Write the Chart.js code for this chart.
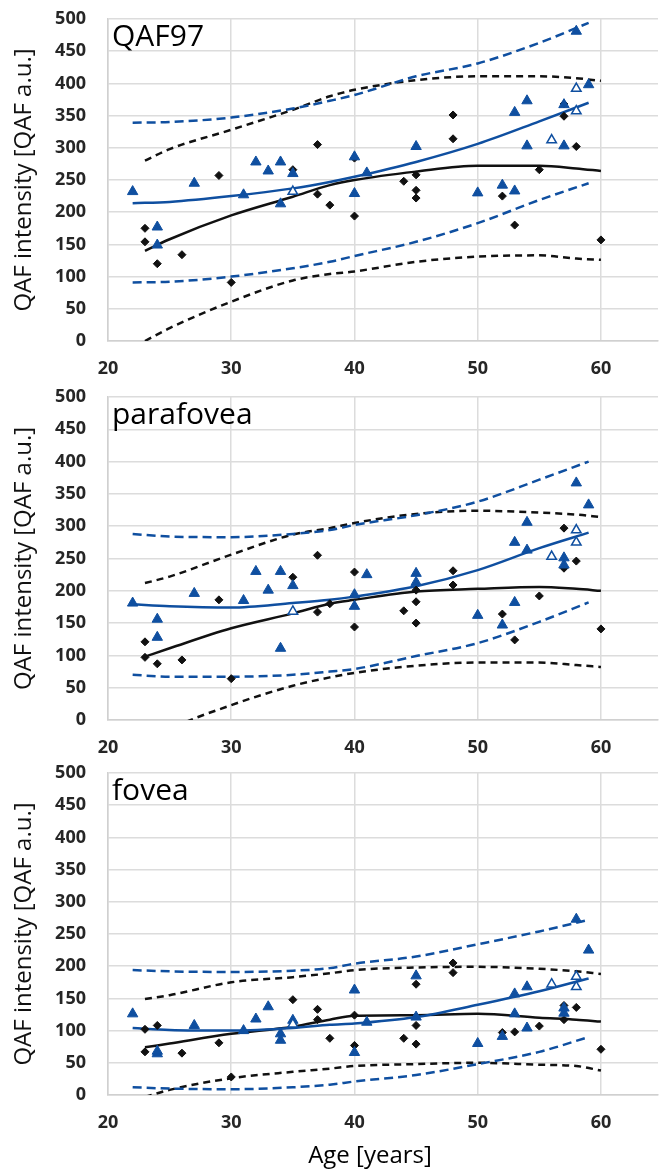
<!DOCTYPE html>
<html>
<head>
<meta charset="utf-8">
<script src="https://cdn.jsdelivr.net/npm/chart.js@4"></script>
<style>
  body { margin: 0; background: #fff; }
  #wrap { position: relative; width: 665px; height: 1170px; overflow: hidden; }
  canvas { position: absolute; left: 0; }
</style>
</head>
<body>
<div id="wrap">
  <canvas id="c1" width="665" height="380" style="top:0px"></canvas>
  <canvas id="c2" width="665" height="380" style="top:380px"></canvas>
  <canvas id="c3" width="665" height="410" style="top:760px"></canvas>
</div>
<script>
// ages where the fitted curves were read
const blackAges = [23, 25, 30, 35, 38, 40, 45, 50, 55, 58, 60];
const blueAges = [22, 25, 30, 35, 38, 40, 45, 50, 55, 59];

// QAF97
const qafBlackFit = [140, 158, 195, 224, 242, 250, 263, 272, 272, 268, 264];
const qafBlackUp = [280, 298, 328, 359, 380, 390, 405, 411, 411, 408, 404];
const qafBlackLow = [0, 20, 61, 94, 104, 108, 123, 131, 133, 128, 126];
const qafBlueFit = [214, 216, 225, 237, 247, 255, 278, 306, 341, 370];
const qafBlueUp = [339, 340, 347, 361, 373, 382, 411, 431, 463, 494];
const qafBlueLow = [91, 92, 100, 113, 123, 132, 154, 183, 219, 245];

// parafovea
const paraBlackFit = [98, 111, 142, 165, 180, 186, 199, 203, 206, 203, 200];
const paraBlackUp = [212, 222, 256, 287, 297, 305, 319, 324, 321, 318, 314];
const paraBlackLow = [-40, -15, 23, 53, 66, 73, 84, 89, 89, 85, 82];
const paraBlueFit = [179, 176, 174, 181, 186, 191, 207, 232, 266, 290];
const paraBlueUp = [288, 284, 283, 288, 294, 302, 317, 338, 372, 400];
const paraBlueLow = [70, 67, 67, 70, 75, 79, 99, 119, 152, 182];

// fovea
const fovBlackFit = [74, 80, 95, 106, 117, 123, 124, 126, 120, 117, 114];
const fovBlackUp = [149, 155, 175, 183, 189, 194, 198, 199, 196, 192, 188];
const fovBlackLow = [-3, 8, 26, 36, 41, 45, 48, 50, 47, 45, 38];
const fovBlueFit = [104, 101, 100, 104, 109, 111, 121, 140, 161, 181];
const fovBlueUp = [194, 192, 191, 193, 197, 204, 215, 234, 254, 272];
const fovBlueLow = [12, 10, 9, 12, 16, 21, 31, 48, 67, 90];

// individual subjects
const diamondAges = [23, 23, 24, 26, 29, 30, 35, 37, 37, 38, 40, 40, 44, 45, 45, 45, 48, 48, 52, 53, 55, 57, 57, 58, 60];
const qafDiamonds = [175, 154, 120, 134, 257, 91, 266, 305, 228, 211, 284, 194, 248, 258, 234, 222, 351, 314, 225, 180, 266, 368, 349, 302, 157];
const paraDiamonds = [121, 97, 87, 93, 186, 64, 221, 255, 167, 180, 229, 144, 169, 201, 183, 150, 231, 209, 164, 124, 192, 297, 235, 246, 141];
const fovDiamonds = [102, 67, 108, 65, 81, 28, 148, 133, 117, 88, 124, 77, 88, 172, 108, 79, 205, 190, 97, 98, 107, 139, 117, 136, 71];

const qafTriAges = [22, 24, 24, 27, 31, 32, 33, 34, 34, 35, 40, 40, 41, 45, 50, 52, 53, 53, 54, 54, 57, 57, 58, 59];
const qafTriangles = [232, 177, 149, 245, 227, 278, 264, 278, 213, 260, 286, 229, 261, 302, 230, 242, 233, 355, 373, 303, 367, 303, 481, 398];
const triAges = [22, 24, 24, 27, 31, 32, 33, 34, 34, 35, 40, 40, 41, 45, 45, 50, 52, 53, 53, 54, 54, 57, 57, 58, 59];
const paraTriangles = [181, 156, 128, 196, 185, 230, 201, 230, 111, 208, 194, 176, 225, 227, 213, 162, 147, 182, 275, 306, 263, 251, 240, 367, 333];
const fovTriangles = [126, 64, 68, 108, 100, 118, 137, 95, 85, 116, 163, 66, 113, 185, 121, 80, 91, 157, 126, 168, 104, 135, 127, 273, 225];

const hollowAges = [35, 56, 58, 58];
const qafHollow = [232, 312, 392, 357];
const paraHollow = [168, 253, 294, 275];
const fovHollow = [110, 172, 184, 168];

const yTicks = [0, 50, 100, 150, 200, 250, 300, 350, 400, 450, 500];
const xTicks = [20, 30, 40, 50, 60];

const BLUE = "#0f4fa0";
const BLACK = "#111111";
const FONT = "'Open Sans', 'Noto Sans', sans-serif";

function pts(xs, ys) {
  return xs.map((x, i) => ({ x: x, y: ys[i] }));
}

function lineSet(xs, ys, color, dash) {
  return {
    type: "line",
    data: pts(xs, ys),
    borderColor: color,
    borderWidth: 2.5,
    borderDash: dash,
    pointRadius: 0,
    showLine: true,
    fill: false,
    cubicInterpolationMode: "monotone",
    order: 5
  };
}

const panelLabel = {
  id: "panelLabel",
  afterDraw(chart, args, opts) {
    const { ctx, chartArea } = chart;
    ctx.save();
    ctx.font = "30px " + FONT;
    ctx.fillStyle = "#000";
    ctx.textAlign = "left";
    ctx.textBaseline = "alphabetic";
    ctx.fillText(opts.text, chartArea.left + 4, chartArea.top + 27);
    if (opts.xTitle) {
      ctx.font = "24px " + FONT;
      ctx.textAlign = "center";
      ctx.fillText(opts.xTitle, 370, chart.height - 7);
    }
    ctx.restore();
  }
};

function makeChart(id, label, s, padTop, xHeight, xTitle) {
  new Chart(document.getElementById(id), {
    type: "scatter",
    data: {
      datasets: [
        {
          data: pts(hollowAges, s.hollow),
          pointStyle: "triangle",
          pointRadius: 5.5,
          backgroundColor: "#ffffff",
          borderColor: BLUE,
          borderWidth: 1.5,
          order: 1
        },
        {
          data: pts(s.triAges, s.tri),
          pointStyle: "triangle",
          pointRadius: 6,
          backgroundColor: BLUE,
          borderColor: BLUE,
          borderWidth: 1,
          order: 2
        },
        {
          data: pts(diamondAges, s.dia),
          pointStyle: "rectRot",
          pointRadius: 4,
          backgroundColor: BLACK,
          borderColor: BLACK,
          borderWidth: 1,
          order: 3
        },
        lineSet(blueAges, s.blueFit, BLUE, []),
        lineSet(blueAges, s.blueUp, BLUE, [9, 5]),
        lineSet(blueAges, s.blueLow, BLUE, [9, 5]),
        lineSet(blackAges, s.blackFit, BLACK, []),
        lineSet(blackAges, s.blackUp, BLACK, [7, 5]),
        lineSet(blackAges, s.blackLow, BLACK, [7, 5])
      ]
    },
    options: {
      responsive: false,
      animation: false,
      events: [],
      layout: { padding: { top: padTop, left: 0, right: 0, bottom: 0 } },
      plugins: {
        legend: { display: false },
        tooltip: { enabled: false },
        panelLabel: { text: label, xTitle: xTitle }
      },
      scales: {
        x: {
          type: "linear",
          min: 20,
          max: 64.63,
          afterBuildTicks: (axis) => { axis.ticks = xTicks.map(v => ({ value: v })); },
          afterFit: (axis) => { axis.height = xHeight; },
          ticks: {
            includeBounds: false,
            padding: 17,
            color: "#262626",
            font: { family: FONT, size: 18, weight: "bold" }
          },
          grid: { color: "#dcdcdc", lineWidth: 1.5, drawTicks: false },
          border: { color: "#d0d0d0", width: 1.5 }
        },
        y: {
          min: 0,
          max: 500,
          afterBuildTicks: (axis) => { axis.ticks = yTicks.map(v => ({ value: v })); },
          afterFit: (axis) => {
            axis.width = 108;
            axis.paddingTop = 0;
            axis.paddingBottom = 0;
          },
          ticks: {
            padding: 22,
            color: "#262626",
            font: { family: FONT, size: 18, weight: "bold" }
          },
          grid: { color: "#dcdcdc", lineWidth: 1.5, drawTicks: false },
          border: { color: "#d0d0d0", width: 1.5 },
          title: {
            display: true,
            text: "QAF intensity [QAF a.u.]",
            color: "#111",
            font: { family: FONT, size: 24 },
            padding: { top: 10, bottom: 0 }
          }
        }
      }
    },
    plugins: [panelLabel]
  });
}

makeChart("c1", "QAF97", {
  hollow: qafHollow, triAges: qafTriAges, tri: qafTriangles, dia: qafDiamonds,
  blueFit: qafBlueFit, blueUp: qafBlueUp, blueLow: qafBlueLow,
  blackFit: qafBlackFit, blackUp: qafBlackUp, blackLow: qafBlackLow
}, 19, 39, null);

makeChart("c2", "parafovea", {
  hollow: paraHollow, triAges: triAges, tri: paraTriangles, dia: paraDiamonds,
  blueFit: paraBlueFit, blueUp: paraBlueUp, blueLow: paraBlueLow,
  blackFit: paraBlackFit, blackUp: paraBlackUp, blackLow: paraBlackLow
}, 17, 40, null);

makeChart("c3", "fovea", {
  hollow: fovHollow, triAges: triAges, tri: fovTriangles, dia: fovDiamonds,
  blueFit: fovBlueFit, blueUp: fovBlueUp, blueLow: fovBlueLow,
  blackFit: fovBlackFit, blackUp: fovBlackUp, blackLow: fovBlackLow
}, 13, 75, "Age [years]");
</script>
</body>
</html>
